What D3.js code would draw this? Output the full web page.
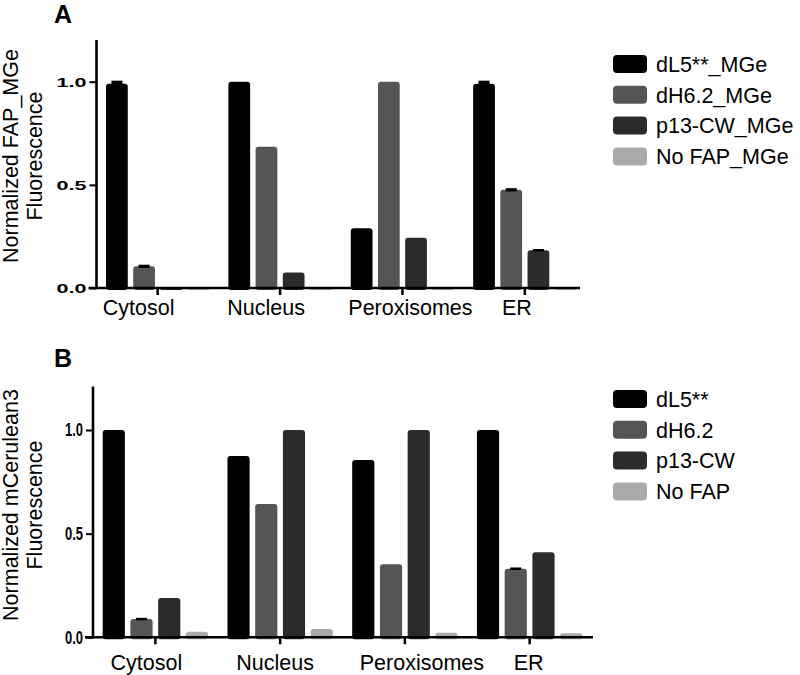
<!DOCTYPE html>
<html>
<head>
<meta charset="utf-8">
<script src="https://cdn.jsdelivr.net/npm/d3@7"></script>
<style>
  html, body { margin: 0; padding: 0; background: #ffffff; }
  svg { display: block; }
</style>
</head>
<body>
<script>
// ---------------- DATA ----------------
const categories = ["Cytosol", "Nucleus", "Peroxisomes", "ER"];
const seriesA = ["dL5**_MGe", "dH6.2_MGe", "p13-CW_MGe", "No FAP_MGe"];
const seriesB = ["dL5**", "dH6.2", "p13-CW", "No FAP"];
const yTicks = [0.0, 0.5, 1.0];

// Panel A: Normalized FAP_MGe fluorescence
const aDL5   = [0.99, 1.00, 0.29, 0.99];
const aDH62  = [0.105, 0.685, 1.00, 0.476];
const aP13   = [0.005, 0.075, 0.243, 0.183];
const aNoFAP = [0.004, 0.003, 0.003, 0.004];
const aDL5Err   = [0.015, 0, 0, 0.015];
const aDH62Err  = [0.008, 0, 0, 0.008];
const aP13Err   = [0, 0, 0, 0.006];
const aNoFAPErr = [0, 0, 0, 0];

// Panel B: Normalized mCerulean3 fluorescence
const bDL5   = [1.00, 0.875, 0.855, 1.00];
const bDH62  = [0.088, 0.643, 0.352, 0.331];
const bP13   = [0.19, 1.00, 1.00, 0.41];
const bNoFAP = [0.027, 0.040, 0.022, 0.020];
const bDL5Err   = [0, 0, 0, 0];
const bDH62Err  = [0.006, 0, 0, 0.006];
const bP13Err   = [0, 0, 0, 0];
const bNoFAPErr = [0, 0, 0, 0];

const colors = ["#000000", "#555555", "#2b2b2b", "#aaaaaa"];

// ---------------- LAYOUT ----------------
const W = 800, H = 675;
const FONT = "'Liberation Sans', Arial, Helvetica, sans-serif";

const svg = d3.select("body").append("svg")
  .attr("width", W).attr("height", H)
  .attr("viewBox", `0 0 ${W} ${H}`);

function drawPanel(cfg) {
  const g = svg.append("g");
  const x0 = d3.scaleBand().domain(categories).range([cfg.left, cfg.right]).padding(0);
  const x1 = d3.scaleBand().domain(cfg.series).range([0, x0.bandwidth()])
    .paddingInner(0.2).paddingOuter(0.35);
  const y = d3.scaleLinear().domain([0, 1.2]).range([cfg.bottom, cfg.bottom - cfg.unit * 1.2]);

  const rows = [];
  cfg.values.forEach((arr, si) => {
    arr.forEach((v, ci) => rows.push({ s: cfg.series[si], si, c: categories[ci], v, e: cfg.errs[si][ci] }));
  });

  // bars
  g.selectAll("rect.bar").data(rows).join("rect")
    .attr("class", "bar")
    .attr("x", d => x0(d.c) + x1(d.s))
    .attr("width", x1.bandwidth())
    .attr("y", d => y(d.v))
    .attr("height", d => Math.max(0.8, y(0) - y(d.v) + 2))
    .attr("rx", d => Math.min(3, (y(0) - y(d.v)) / 2 + 0.5))
    .attr("fill", d => colors[d.si]);

  // error bars
  const eb = rows.filter(d => d.e > 0);
  g.selectAll("rect.err").data(eb).join("rect")
    .attr("class", "err")
    .attr("x", d => x0(d.c) + x1(d.s) + x1.bandwidth() / 2 - 5.5)
    .attr("width", 11)
    .attr("y", d => y(d.v + d.e))
    .attr("height", d => Math.max(2.5, y(d.v - d.e) - y(d.v + d.e)))
    .attr("fill", "#000");

  // y axis
  const yAxis = d3.axisLeft(y).tickValues(yTicks).tickSize(7).tickPadding(3)
    .tickFormat(d3.format(".1f"));
  const ya = g.append("g").attr("transform", `translate(${cfg.left},0)`).call(yAxis);
  ya.select(".domain").attr("stroke", "#000").attr("stroke-width", 2.6)
    .attr("d", `M0,${cfg.axisTop}V${cfg.bottom + 1}`);
  ya.selectAll(".tick line").attr("stroke", "#000").attr("stroke-width", 2);
  ya.selectAll(".tick text")
    .attr("font-family", FONT).attr("font-weight", "bold")
    .attr("font-size", cfg.tickFont).attr("fill", "#000")
    .attr("textLength", cfg.tickLen).attr("lengthAdjust", "spacingAndGlyphs");

  // x axis
  const xAxis = d3.axisBottom(x0).tickSize(7).tickSizeOuter(0).tickFormat("");
  const xa = g.append("g").attr("transform", `translate(0,${cfg.bottom})`).call(xAxis);
  xa.select(".domain").remove();
  xa.selectAll(".tick line").attr("stroke", "#000").attr("stroke-width", 2.5);
  g.append("line")
    .attr("x1", cfg.left - 8).attr("x2", cfg.axisRight)
    .attr("y1", cfg.bottom).attr("y2", cfg.bottom)
    .attr("stroke", "#000").attr("stroke-width", 2.6);

  // category labels
  g.selectAll("text.cat").data(categories).join("text")
    .attr("class", "cat")
    .attr("x", (d, i) => x0(d) + x0.bandwidth() / 2 + cfg.labelShift[i])
    .attr("y", cfg.bottom + cfg.labelDy)
    .attr("text-anchor", "middle")
    .attr("font-family", FONT).attr("font-size", 21.5).attr("fill", "#000")
    .text(d => d);

  // y title
  const yt = g.append("text")
    .attr("transform", `translate(0,${cfg.titleCenter}) rotate(-90)`)
    .attr("text-anchor", "middle")
    .attr("font-family", FONT).attr("font-size", 21.5).attr("fill", "#000");
  yt.append("tspan").attr("x", 0).attr("y", 17.5).text(cfg.title1);
  yt.append("tspan").attr("x", 0).attr("y", 42).text(cfg.title2);

  // panel letter
  g.append("text").attr("x", 54).attr("y", cfg.letterY)
    .attr("font-family", FONT).attr("font-weight", "bold").attr("font-size", 25)
    .attr("fill", "#000").text(cfg.letter);

  // legend
  const lg = g.append("g").attr("transform", `translate(613,${cfg.legendTop})`);
  const items = lg.selectAll("g").data(cfg.series).join("g")
    .attr("transform", (d, i) => `translate(0,${i * 30.8})`);
  items.append("rect").attr("x", 0).attr("y", -9).attr("width", 34).attr("height", 18)
    .attr("rx", 4).attr("fill", (d, i) => colors[i]);
  items.append("text").attr("x", 43).attr("y", 7.7)
    .attr("font-family", FONT).attr("font-size", 21.5).attr("fill", "#000")
    .text(d => d);
}

drawPanel({
  letter: "A", letterY: 23,
  series: seriesA,
  values: [aDL5, aDH62, aP13, aNoFAP],
  errs: [aDL5Err, aDH62Err, aP13Err, aNoFAPErr],
  left: 96.5, right: 586, axisRight: 580, bottom: 288, unit: 206.3, axisTop: 40,
  tickFont: 13.5, tickLen: 30,
  labelShift: [-19, -14, 8, -8], labelDy: 27,
  title1: "Normalized FAP_MGe", title2: "Fluorescence", titleCenter: 156,
  legendTop: 64
});

drawPanel({
  letter: "B", letterY: 366.5,
  series: seriesB,
  values: [bDL5, bDH62, bP13, bNoFAP],
  errs: [bDL5Err, bDH62Err, bP13Err, bNoFAPErr],
  left: 93, right: 592, axisRight: 593, bottom: 637.3, unit: 207.3, axisTop: 386.5,
  tickFont: 18.5, tickLen: 18,
  labelShift: [-9, -5, 17, -1], labelDy: 33,
  title1: "Normalized mCerulean3", title2: "Fluorescence", titleCenter: 505,
  legendTop: 399
});
</script>
</body>
</html>
